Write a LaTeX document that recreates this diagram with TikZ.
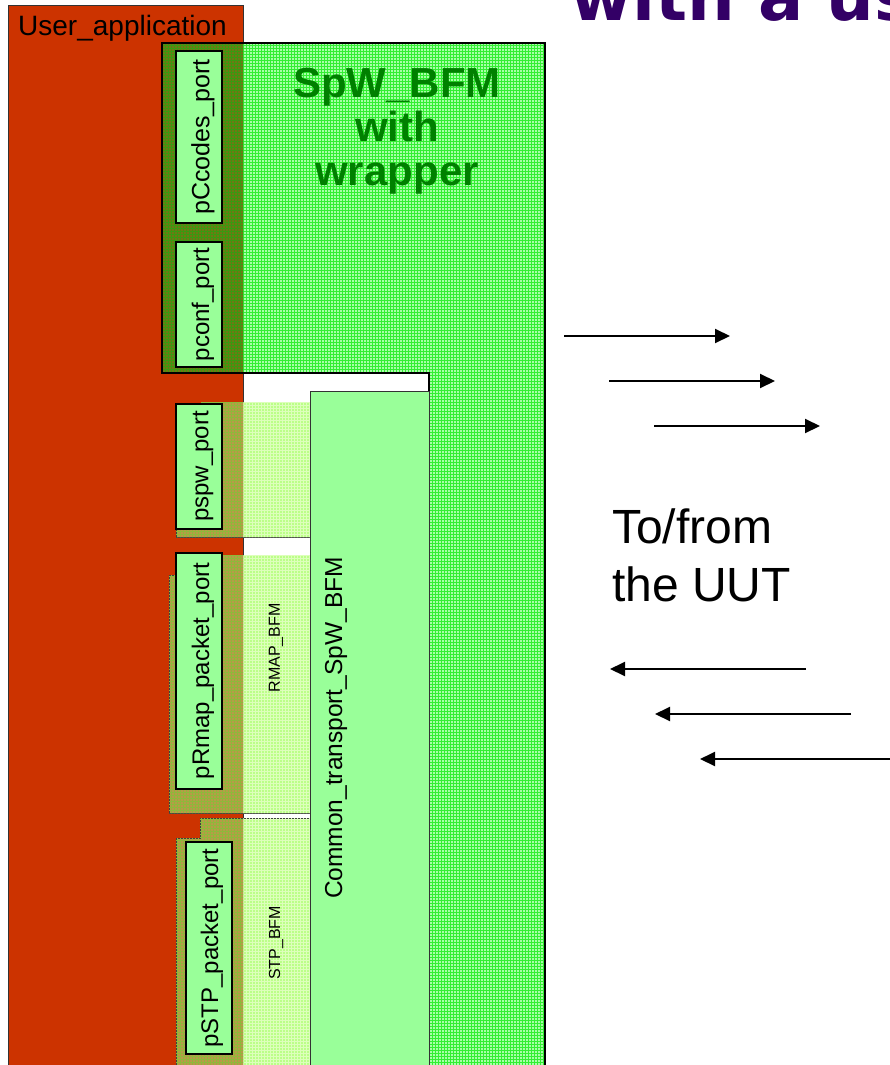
\documentclass[tikz,border=0pt]{standalone}
\usepackage{fontspec}
\setmainfont{Liberation Sans}
\newfontfamily\titlefont{DejaVu Sans}
\definecolor{Appcol}{HTML}{CC3300}
\definecolor{Wrapcol}{HTML}{A8FFA8}
\definecolor{Wrapgrid}{HTML}{33EE33}
\definecolor{Overcol}{HTML}{707814}
\definecolor{Overgrid}{HTML}{3A9A10}
\definecolor{Subcol}{HTML}{BBFF88}
\definecolor{Subgrid}{HTML}{DDFFBB}
\definecolor{Tancol}{HTML}{B89A48}
\definecolor{Tangrid}{HTML}{8FB83A}
\definecolor{Portcol}{HTML}{99FF99}
\definecolor{Labelcol}{HTML}{008000}
\definecolor{Titlecol}{HTML}{330066}
\definecolor{Edgecol}{HTML}{333333}
\usetikzlibrary{arrows.meta, patterns, positioning}
\tikzset{
    >={Triangle[length=15pt, width=14pt]},
    portbox/.style={draw=black, line width=1.2pt, fill=Portcol, rotate=90, inner sep=0pt, minimum height=46},
    porttext/.style={rotate=90, inner sep=0pt, font=\fontsize{24}{28}\selectfont},
    subpart/.style={fill=Subcol, postaction={pattern=grid, pattern color=Subgrid}, draw=black!75, line width=1pt},
    subover/.style={fill=Tancol, postaction={pattern=grid, pattern color=Tangrid}, draw=black!75, line width=1pt},
    flow/.style={->, line width=2pt}
}

\begin{document}
\begin{tikzpicture}[x=1pt, y=-1pt]
    \useasboundingbox (0,0) rectangle (890,1065);
    \clip (0,0) rectangle (890,1065);

    % User application
    \path[fill=Appcol, draw=Edgecol, line width=1pt] (8,6) rectangle (243,1080);
    \node[anchor=base west, inner sep=0pt, font=\fontsize{28}{30}\selectfont] (app) at (18,36) {User\_application};

    % SpW_BFM wrapper
    \path[fill=Wrapcol, postaction={pattern=grid, pattern color=Wrapgrid}]
        (162,43) -- (545,43) -- (545,1080) -- (429,1080) -- (429,373) -- (162,373) -- cycle;
    \path[fill=Overcol, postaction={pattern=grid, pattern color=Overgrid}] (162,43) rectangle (243,373);
    \draw[black, line width=1.5pt]
        (162,43) -- (545,43) -- (545,1080) -- (429,1080) -- (429,373) -- (162,373) -- cycle;
    \node[align=center, inner sep=0pt, text=Labelcol, font=\bfseries\fontsize{42}{44}\selectfont, anchor=base] (wraptext) at (397,185) {SpW\_BFM\\with\\wrapper};

    % Protocol parts
    \path[subpart] (201,402) -- (310,402) -- (310,537) -- (176,537) -- (176,404) -- (201,404) -- cycle;
    \path[subpart] (169,575) -- (176,575) -- (176,555) -- (310,555) -- (310,813) -- (169,813) -- cycle;
    \path[subpart] (200,818) -- (310,818) -- (310,1080) -- (176,1080) -- (176,838) -- (200,838) -- cycle;
    \begin{scope}
        \clip (0,0) rectangle (243,1080);
        \path[subover] (201,402) -- (310,402) -- (310,537) -- (176,537) -- (176,404) -- (201,404) -- cycle;
        \path[subover] (169,575) -- (176,575) -- (176,555) -- (310,555) -- (310,813) -- (169,813) -- cycle;
        \path[subover] (200,818) -- (310,818) -- (310,1080) -- (176,1080) -- (176,838) -- (200,838) -- cycle;
    \end{scope}
    \node[rotate=90, inner sep=0pt, font=\fontsize{16}{18}\selectfont] (rmaptext) at (276,648) {RMAP\_BFM};
    \node[rotate=90, inner sep=0pt, font=\fontsize{16}{18}\selectfont] (stptext) at (276,943) {STP\_BFM};

    % Common transport
    \node[draw=Edgecol, line width=1.2pt, fill=Portcol, anchor=north west, minimum width=119, minimum height=700, inner sep=0pt] (common) at (310,390.5) {};
    \node[rotate=90, inner sep=0pt, font=\fontsize{24.5}{28}\selectfont] (commontext) at (336,728) {Common\_transport\_SpW\_BFM};

    % Ports
    \node[portbox, minimum width=172] (pccodes) at (199,137) {};
    \node[porttext, font=\fontsize{25}{28}\selectfont] (pccodestext) at ([xshift=4pt]pccodes.center) {pCcodes\_port};
    \node[portbox, minimum width=125] (pconf) at (199,304.5) {};
    \node[porttext] (pconftext) at ([xshift=4pt]pconf.center) {pconf\_port};
    \node[portbox, minimum width=125] (pspw) at (199,466.5) {};
    \node[porttext] (pspwtext) at ([xshift=4pt]pspw.center) {pspw\_port};
    \node[portbox, minimum width=236] (prmap) at (199,671) {};
    \node[porttext] (prmaptext) at ([xshift=4pt]prmap.center) {pRmap\_packet\_port};
    \node[portbox, minimum width=212] (pstp) at (209,948) {};
    \node[porttext] (pstptext) at ([xshift=3pt]pstp.center) {pSTP\_packet\_port};

    % Links to the UUT
    \foreach \i in {0,1,2} {
        \coordinate (txA\i) at (564+45*\i, 336+45*\i);
        \coordinate (txB\i) at (730+45*\i, 336+45*\i);
        \draw[flow] (txA\i) -- (txB\i);
        \coordinate (rxA\i) at (806+45*\i, 669+45*\i);
        \coordinate (rxB\i) at (610+45*\i, 669+45*\i);
        \draw[flow] (rxA\i) -- (rxB\i);
    }
    \node[anchor=base west, align=left, inner sep=0pt, font=\fontsize{48}{58}\selectfont] (uut) at (612,601) {To/from\\the UUT};

    % Title
    \node[anchor=base west, inner sep=0pt, text=Titlecol, font=\titlefont\bfseries\fontsize{67}{67}\selectfont] (title) at (570,21) {with a us};
\end{tikzpicture}
\end{document}
